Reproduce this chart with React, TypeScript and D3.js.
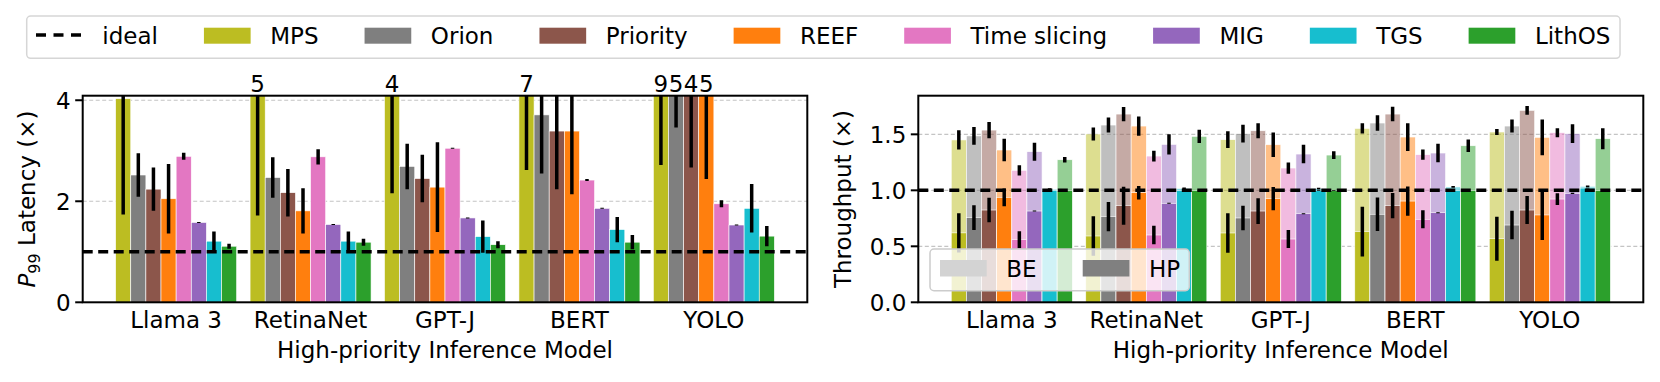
import React, { useEffect, useRef } from 'react';
import * as d3 from 'd3';

const models = ['Llama 3', 'RetinaNet', 'GPT-J', 'BERT', 'YOLO'];
const systems = ['MPS', 'Orion', 'Priority', 'REEF', 'Time slicing', 'MIG', 'TGS', 'LithOS'];
const colors = ['#bcbd22', '#7f7f7f', '#8c564b', '#ff7f0e', '#e377c2', '#9467bd', '#17becf', '#2ca02c'];

// P99 latency (x) - one row per model, one column per system
const latency = [
  [4.03, 2.52, 2.24, 2.05, 2.89, 1.58, 1.21, 1.11],
  [5.2, 2.47, 2.17, 1.81, 2.88, 1.54, 1.21, 1.19],
  [4.3, 2.69, 2.45, 2.28, 3.05, 1.67, 1.3, 1.14],
  [7.2, 3.71, 3.39, 3.39, 2.42, 1.86, 1.44, 1.19],
  [9.3, 5.0, 4.3, 5.2, 1.95, 1.53, 1.86, 1.31],
];
const latencyErr = [
  [2.29, 0.43, 0.43, 0.69, 0.07, 0.01, 0.19, 0.05],
  [3.48, 0.4, 0.47, 0.45, 0.15, 0.01, 0.19, 0.07],
  [2.14, 0.45, 0.47, 0.89, 0.01, 0.01, 0.32, 0.07],
  [4.58, 1.16, 1.15, 1.25, 0.02, 0.01, 0.25, 0.14],
  [6.58, 1.54, 1.63, 2.76, 0.07, 0.01, 0.48, 0.2],
];

// throughput (x): high-priority part and best-effort part stacked on it
const hpThroughput = [
  [0.62, 0.756, 0.824, 0.937, 0.559, 0.815, 1.0, 1.0],
  [0.592, 0.765, 0.863, 0.979, 0.601, 0.884, 1.0, 1.0],
  [0.619, 0.753, 0.815, 0.925, 0.565, 0.791, 1.0, 1.0],
  [0.631, 0.786, 0.863, 0.904, 0.741, 0.8, 1.0, 1.0],
  [0.568, 0.69, 0.824, 0.78, 0.922, 0.973, 1.02, 1.0],
];
const hpErr = [
  [0.176, 0.11, 0.11, 0.08, 0.076, 0.005, 0.003, 0.003],
  [0.176, 0.13, 0.17, 0.06, 0.083, 0.005, 0.003, 0.003],
  [0.176, 0.11, 0.115, 0.104, 0.08, 0.005, 0.003, 0.003],
  [0.223, 0.15, 0.113, 0.131, 0.08, 0.005, 0.003, 0.003],
  [0.196, 0.128, 0.125, 0.223, 0.052, 0.005, 0.003, 0.003],
];
const beThroughput = [
  [0.83, 0.73, 0.714, 0.423, 0.619, 0.53, 0.01, 0.273],
  [0.911, 0.818, 0.818, 0.595, 0.705, 0.526, 0.018, 0.482],
  [0.833, 0.753, 0.717, 0.482, 0.634, 0.533, 0.015, 0.315],
  [0.922, 0.815, 0.818, 0.572, 0.577, 0.533, 0.03, 0.398],
  [0.953, 0.884, 0.89, 0.693, 0.593, 0.533, 0.016, 0.461],
];
const totalErr = [
  [0.086, 0.08, 0.073, 0.1, 0.045, 0.08, 0.008, 0.025],
  [0.057, 0.067, 0.064, 0.086, 0.048, 0.09, 0.008, 0.06],
  [0.075, 0.08, 0.067, 0.11, 0.05, 0.083, 0.008, 0.035],
  [0.045, 0.07, 0.065, 0.124, 0.046, 0.083, 0.008, 0.055],
  [0.027, 0.058, 0.04, 0.16, 0.04, 0.083, 0.008, 0.094],
];

const latencyTicks = [0, 2, 4];
const throughputTicks = [0, 0.5, 1.0, 1.5];
const ideal = 1;

const FONT = 'DejaVu Sans, sans-serif';
const FS = 23;

export default function App() {
  const svgRef = useRef<SVGSVGElement>(null);

  useEffect(() => {
    const svg = d3.select(svgRef.current);
    svg.selectAll('*').remove();

    const top = 95.7;
    const bottom = 302.3;
    const barW = 0.1125;
    const off = (j: number) => (j - (systems.length - 1) / 2) * barW;
    const xBase = d3.scaleLinear().domain([-0.695, 4.695]);

    // common axes frame, returns scales and a clipped group for marks
    const panel = (left: number, right: number, yMax: number, ticks: number[], fmt: (v: number) => string, id: string) => {
      const xs = xBase.copy().range([left, right]);
      const ys = d3.scaleLinear().domain([0, yMax]).range([bottom, top]);
      const g = svg.append('g');
      g.append('clipPath').attr('id', id)
        .append('rect').attr('x', left).attr('y', top).attr('width', right - left).attr('height', bottom - top);

      g.selectAll('line.grid').data(ticks.filter(t => t > 0)).join('line')
        .attr('class', 'grid')
        .attr('x1', left).attr('x2', right)
        .attr('y1', d => ys(d)).attr('y2', d => ys(d))
        .attr('stroke', '#c4c4c4').attr('stroke-width', 1.2).attr('stroke-dasharray', '4,2.5');

      const plot = g.append('g').attr('clip-path', `url(#${id})`);

      const finish = (ylabel: (t: any) => void, ylabelX: number) => {
        plot.append('line')
          .attr('x1', left).attr('x2', right)
          .attr('y1', ys(ideal)).attr('y2', ys(ideal))
          .attr('stroke', 'black').attr('stroke-width', 3.5).attr('stroke-dasharray', '10,5.5');

        g.append('rect').attr('x', left).attr('y', top).attr('width', right - left).attr('height', bottom - top)
          .attr('fill', 'none').attr('stroke', 'black').attr('stroke-width', 2);

        const yt = g.selectAll('g.ytick').data(ticks).join('g').attr('class', 'ytick');
        yt.append('line').attr('x1', left - 7.5).attr('x2', left).attr('y1', d => ys(d)).attr('y2', d => ys(d))
          .attr('stroke', 'black').attr('stroke-width', 2);
        yt.append('text').attr('x', left - 12).attr('y', d => ys(d)).attr('dy', '0.36em')
          .attr('text-anchor', 'end').attr('font-family', FONT).attr('font-size', FS).text(d => fmt(d));

        g.selectAll('text.xtick').data(models).join('text').attr('class', 'xtick')
          .attr('x', (d, i) => xs(i)).attr('y', 328)
          .attr('text-anchor', 'middle').attr('font-family', FONT).attr('font-size', FS).text(d => d);

        g.append('text').attr('x', (left + right) / 2).attr('y', 358)
          .attr('text-anchor', 'middle').attr('font-family', FONT).attr('font-size', FS)
          .text('High-priority Inference Model');

        const yl = g.append('text')
          .attr('transform', `translate(${ylabelX},${(top + bottom) / 2}) rotate(-90)`)
          .attr('text-anchor', 'middle').attr('font-family', FONT).attr('font-size', FS);
        ylabel(yl);
      };

      return { xs, ys, g, plot, finish };
    };

    const errLine = (plot: any, x: number, y1: number, y2: number) => {
      plot.append('line').attr('x1', x).attr('x2', x).attr('y1', y1).attr('y2', y2)
        .attr('stroke', 'black').attr('stroke-width', 3.5);
    };

    // ---- left: P99 latency
    {
      const yMax = 4.09;
      const { xs, ys, g, plot, finish } = panel(82.7, 807.3, yMax, latencyTicks, d3.format('d'), 'clipL');
      const bw = xs(barW) - xs(0);
      models.forEach((m, i) => {
        systems.forEach((s, j) => {
          const cx = xs(i + off(j));
          const v = latency[i][j];
          plot.append('rect').attr('x', cx - bw / 2).attr('width', bw)
            .attr('y', ys(v)).attr('height', ys(0) - ys(v))
            .attr('fill', colors[j]).attr('stroke', 'white').attr('stroke-width', 0.6);
        });
      });
      models.forEach((m, i) => {
        systems.forEach((s, j) => {
          const cx = xs(i + off(j));
          const v = latency[i][j];
          const e = latencyErr[i][j];
          errLine(plot, cx, ys(v - e), ys(v + e));
          if (v > yMax) {
            g.append('text').attr('x', cx).attr('y', top - 4).attr('text-anchor', 'middle')
              .attr('font-family', FONT).attr('font-size', FS).text(d3.format('.0f')(v));
          }
        });
      });
      finish(t => {
        t.append('tspan').attr('font-style', 'italic').text('P');
        t.append('tspan').attr('font-size', 16).attr('dy', 5).text('99');
        t.append('tspan').attr('dy', -5).text(' Latency (×)');
      }, 35);
    }

    // ---- right: throughput
    {
      const yMax = 1.845;
      const { xs, ys, plot, finish } = panel(918.3, 1643.3, yMax, throughputTicks, d3.format('.1f'), 'clipR');
      const bw = xs(barW) - xs(0);
      models.forEach((m, i) => {
        systems.forEach((s, j) => {
          const cx = xs(i + off(j));
          const hp = hpThroughput[i][j];
          const tot = hp + beThroughput[i][j];
          plot.append('rect').attr('x', cx - bw / 2).attr('width', bw)
            .attr('y', ys(tot)).attr('height', ys(0) - ys(tot))
            .attr('fill', colors[j]).attr('fill-opacity', 0.5).attr('stroke', 'white').attr('stroke-width', 0.6);
          plot.append('rect').attr('x', cx - bw / 2).attr('width', bw)
            .attr('y', ys(hp)).attr('height', ys(0) - ys(hp))
            .attr('fill', colors[j]).attr('stroke', 'white').attr('stroke-width', 0.6);
        });
      });
      models.forEach((m, i) => {
        systems.forEach((s, j) => {
          const cx = xs(i + off(j));
          const hp = hpThroughput[i][j];
          const tot = hp + beThroughput[i][j];
          errLine(plot, cx, ys(hp - hpErr[i][j]), ys(hp + hpErr[i][j]));
          errLine(plot, cx, ys(tot - totalErr[i][j]), ys(tot + totalErr[i][j]));
        });
      });
      finish(t => t.text('Throughput (×)'), 851);

      // BE / HP legend
      const lg = svg.append('g');
      lg.append('rect').attr('x', 930).attr('y', 249).attr('width', 259.3).attr('height', 41.7).attr('rx', 4)
        .attr('fill', 'white').attr('fill-opacity', 0.8).attr('stroke', '#cccccc').attr('stroke-width', 1.5);
      [['BE', '#d3d3d3', 940], ['HP', '#808080', 1082.7]].forEach(([lab, c, x0]) => {
        lg.append('rect').attr('x', x0).attr('y', 260).attr('width', 46.7).attr('height', 16.5).attr('fill', c as string);
        lg.append('text').attr('x', (x0 as number) + 66.3).attr('y', 276.5)
          .attr('font-family', FONT).attr('font-size', FS).text(lab as string);
      });
    }

    // ---- top legend
    {
      const lg = svg.append('g');
      const box = lg.append('rect').attr('y', 16).attr('height', 42.3).attr('rx', 4)
        .attr('fill', 'white').attr('stroke', '#d6d6d6').attr('stroke-width', 1.5);
      const items = [{ label: 'ideal', color: null as string | null }, ...systems.map((s, j) => ({ label: s, color: colors[j] }))];
      let x = 36;
      items.forEach(it => {
        if (it.color) {
          lg.append('rect').attr('x', x).attr('y', 27.7).attr('width', 46.7).attr('height', 16).attr('fill', it.color);
        } else {
          lg.append('line').attr('x1', x).attr('x2', x + 46.7).attr('y1', 35).attr('y2', 35)
            .attr('stroke', 'black').attr('stroke-width', 3.5).attr('stroke-dasharray', '10,7.5');
        }
        const t = lg.append('text').attr('x', x + 66.3).attr('y', 44)
          .attr('font-family', FONT).attr('font-size', FS).text(it.label);
        const w = (t.node() as SVGTextElement).getComputedTextLength();
        x = x + 66.3 + w + 46;
      });
      box.attr('x', 26.7).attr('width', x - 46 + 9.6 - 26.7);
    }
  }, []);

  return (
    <svg ref={svgRef} width={1660} height={382}
      style={{ position: 'absolute', left: 0, top: 0, background: 'white' }} />
  );
}
